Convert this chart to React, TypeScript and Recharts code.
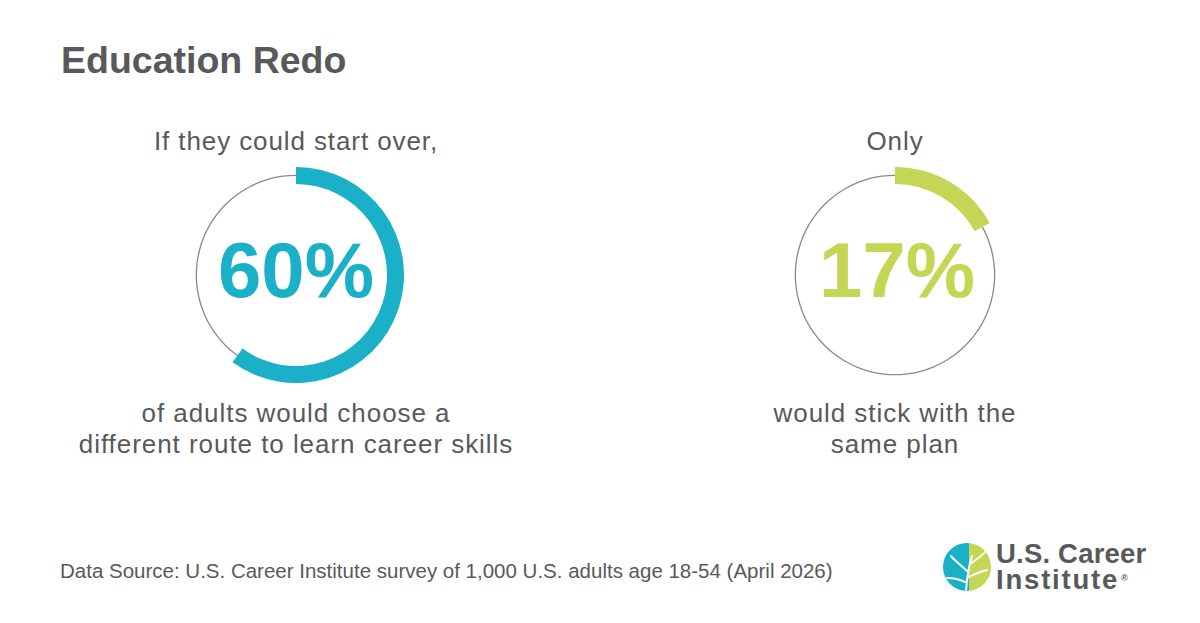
import { PieChart, Pie, Cell } from 'recharts';

// survey shares shown in the two rings
const rings = ['start over', 'same plan'];
const shares = [60, 17];
const ringColors = ['#1ab0c8', '#c5d654'];
const topLines = [['If they could start over,'], ['Only']];
const bottomLines = [
  ['of adults would choose a', 'different route to learn career skills'],
  ['would stick with the', 'same plan'],
];

const W = 1200;
const H = 623;
const CENTERS = [
  { x: 296, y: 275 },
  { x: 895, y: 275 },
];
const TEXT = '#58595b';
const FONT = '"Liberation Sans", Arial, Helvetica, sans-serif';

function Logo() {
  return (
    <g>
      <defs>
        <clipPath id="logoClip">
          <circle cx={967} cy={567} r={24} />
        </clipPath>
      </defs>
      <g clipPath="url(#logoClip)">
        <rect x={943} y={543} width={26} height={48} fill="#1ab0c8" />
        <rect x={969} y={543} width={24} height={48} fill="#c5d654" />
        <path d="M966 591 C967 578 968 568 972 556 M968 572 C962 566 956 562 951 556 M970 564 C976 560 982 556 986 551 M967 578 C974 574 980 572 987 570 M965 582 C959 579 953 578 947 578"
          stroke="#fff" strokeWidth={2} fill="none" strokeLinecap="round" />
      </g>
      <text x={996} y={563} fontFamily={FONT} fontWeight={700} fontSize={27.5} letterSpacing={0.2} fill={TEXT}>U.S. Career</text>
      <text x={996} y={589} fontFamily={FONT} fontWeight={700} fontSize={27.5} letterSpacing={1.8} fill={TEXT}>Institute</text>
      <text x={1121} y={581} fontFamily={FONT} fontWeight={700} fontSize={9} fill={TEXT}>®</text>
    </g>
  );
}

export default function App() {
  return (
    <div style={{ position: 'absolute', left: 0, top: 0, width: W, height: H, background: '#fff' }}>
      <svg width={W} height={H} style={{ position: 'absolute', left: 0, top: 0 }}>
        <text x={61} y={73} fontFamily={FONT} fontWeight={700} fontSize={37.5} fill={TEXT}>Education Redo</text>
        {rings.map((r, i) => (
          <g key={r}>
            {topLines[i].map((t, j) => (
              <text key={j} x={CENTERS[i].x} y={150 + j * 31} textAnchor="middle" fontFamily={FONT}
                fontSize={26} letterSpacing={0.9} fill={TEXT}>{t}</text>
            ))}
            <text x={CENTERS[i].x + (i === 1 ? 2 : 0)} y={297} textAnchor="middle" fontFamily={FONT}
              fontWeight={700} fontSize={78} fill={ringColors[i]}>{`${shares[i]}%`}</text>
            {bottomLines[i].map((t, j) => (
              <text key={j} x={CENTERS[i].x} y={422 + j * 31} textAnchor="middle" fontFamily={FONT}
                fontSize={26} letterSpacing={0.95} fill={TEXT}>{t}</text>
            ))}
          </g>
        ))}
        <text x={60} y={578} fontFamily={FONT} fontSize={20.5} fill={TEXT}>
          Data Source: U.S. Career Institute survey of 1,000 U.S. adults age 18-54 (April 2026)
        </text>
        <Logo />
      </svg>
      <div style={{ position: 'absolute', left: 0, top: 0 }}>
        <PieChart width={W} height={H} margin={{ top: 0, right: 0, bottom: 0, left: 0 }}>
          {rings.map((r, i) => (
            <Pie
              key={`track-${r}`}
              data={[{ name: r, value: 100 }]}
              dataKey="value"
              cx={CENTERS[i].x}
              cy={CENTERS[i].y}
              innerRadius={99}
              outerRadius={100.3}
              startAngle={90}
              endAngle={-270}
              stroke="none"
              fill="#8a8a8a"
              isAnimationActive={false}
            />
          ))}
          {rings.map((r, i) => (
            <Pie
              key={`ring-${r}`}
              data={[{ name: r, value: shares[i] }, { name: 'rest', value: 100 - shares[i] }]}
              dataKey="value"
              cx={CENTERS[i].x}
              cy={CENTERS[i].y}
              innerRadius={91}
              outerRadius={108}
              startAngle={90}
              endAngle={-270}
              stroke="none"
              isAnimationActive={false}
            >
              <Cell fill={ringColors[i]} />
              <Cell fill="transparent" />
            </Pie>
          ))}
        </PieChart>
      </div>
    </div>
  );
}
